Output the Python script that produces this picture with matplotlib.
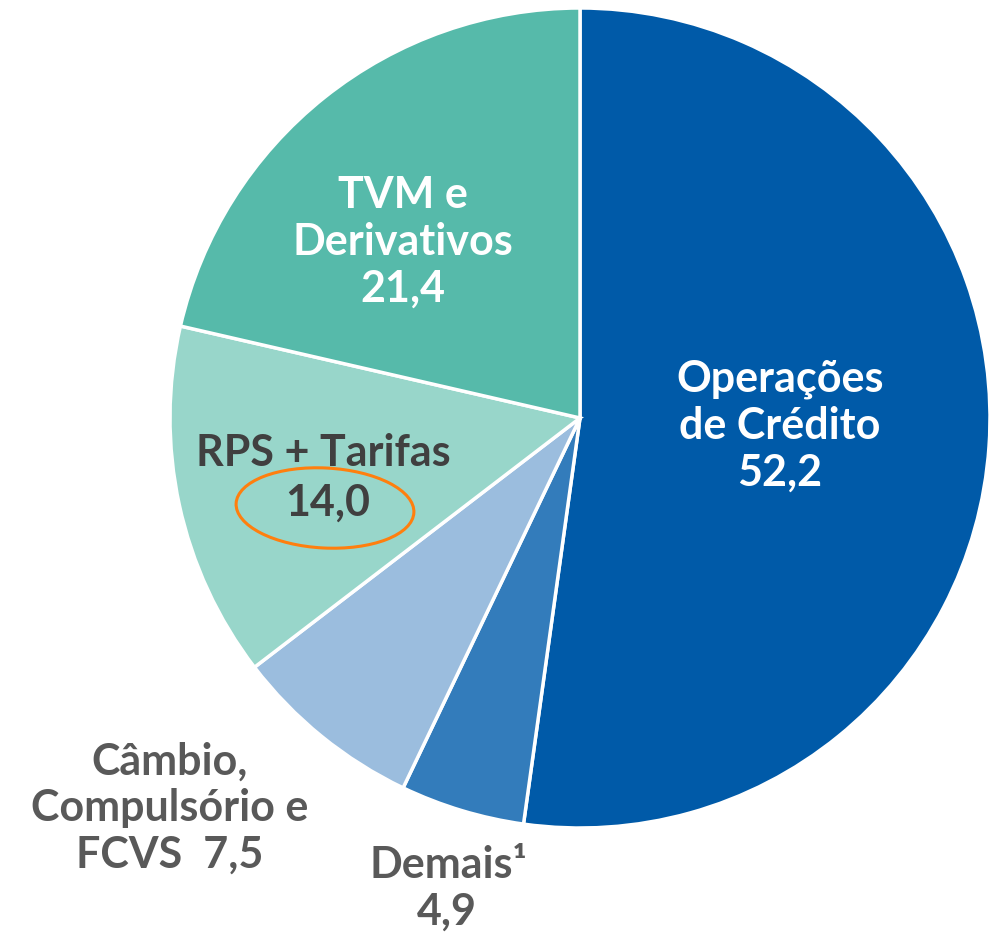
import matplotlib
matplotlib.use("Agg")
import matplotlib.pyplot as plt
from matplotlib.patches import Ellipse

categories = ["Operações\nde Crédito", "Demais¹", "Câmbio,\nCompulsório e\nFCVS", "RPS + Tarifas", "TVM e\nDerivativos"]
values = [52.2, 4.9, 7.5, 14.0, 21.4]
value_labels = ["52,2", "4,9", "7,5", "14,0", "21,4"]
colors = ["#005AA8", "#337CBB", "#9BBDDE", "#98D6CA", "#56BAAA"]

W, H = 989, 936
fig = plt.figure(figsize=(W / 100, H / 100), dpi=100)
ax = fig.add_axes([0, 0, 1, 1])

cx, cy, R = 580, H - 418, 410
ax.pie(values, colors=colors, startangle=90, counterclock=False,
       center=(cx, cy), radius=R, frame=True,
       wedgeprops=dict(edgecolor="white", linewidth=2.5))
ax.set_xlim(0, W)
ax.set_ylim(0, H)
ax.axis("off")

font = dict(family="Lato", fontweight="bold", fontsize=31, ha="center", va="center",
            linespacing=1.2)

def Y(y):
    return H - y

ax.text(780, Y(426), categories[0] + "\n" + value_labels[0], color="white", **font)
ax.text(403, Y(242), categories[4] + "\n" + value_labels[4], color="white", **font)
ax.text(323, Y(453), categories[3], color="#404040", **font)
ax.text(328, Y(503), value_labels[3], color="#404040", **font)
ax.text(170, Y(808), "Câmbio,\nCompulsório e\nFCVS  " + value_labels[2], color="#595959", **font)
ax.text(448, Y(865), categories[1], color="#595959", **font)
ax.text(447, Y(912), value_labels[1], color="#595959", **font)

ax.add_patch(Ellipse((325, Y(508)), 178, 80, angle=-3, fill=False,
                     edgecolor="#FF7F0E", linewidth=2.2, zorder=5))

fig.savefig("out.png", dpi=100)
